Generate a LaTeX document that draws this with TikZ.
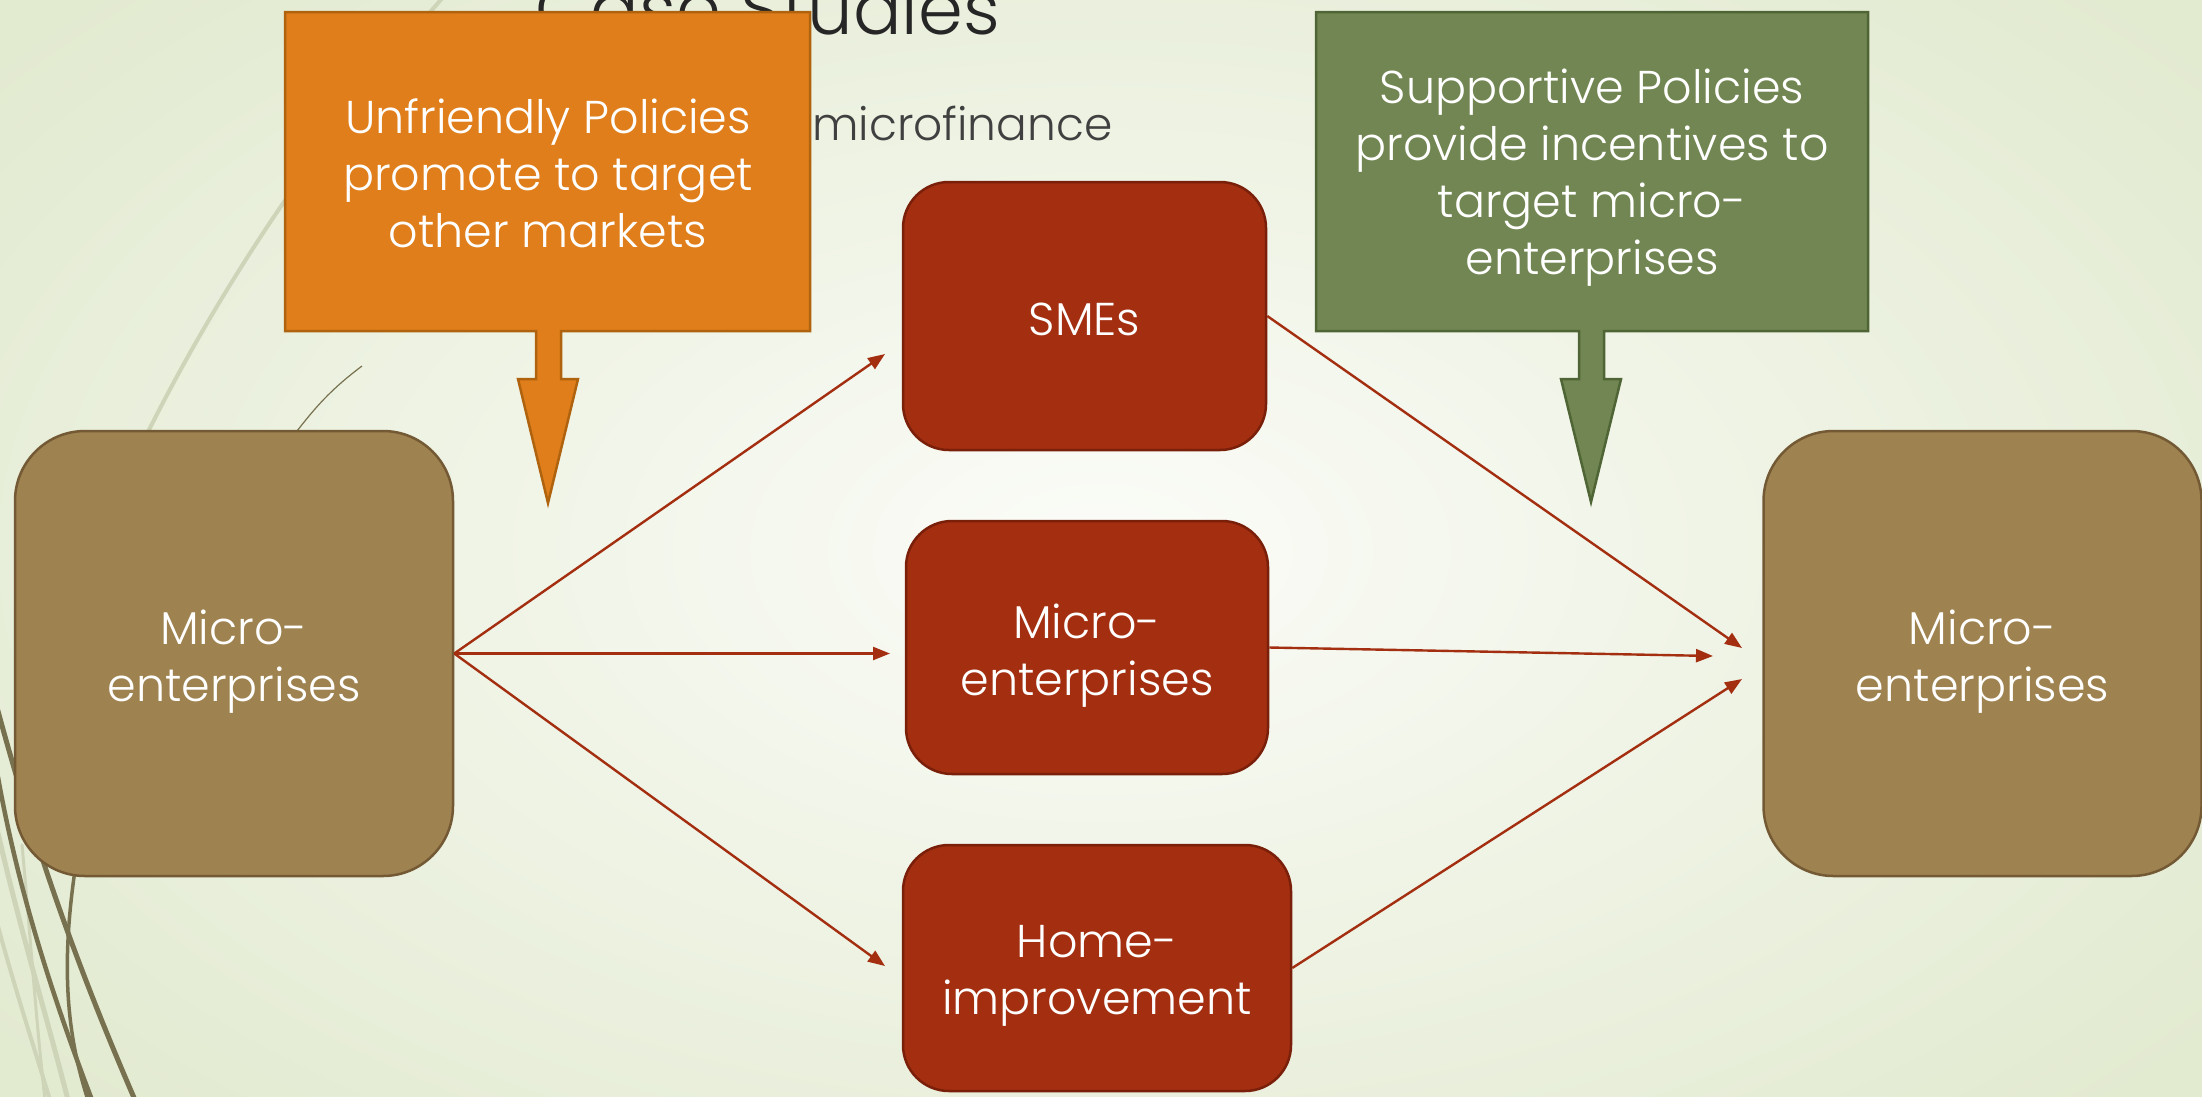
\documentclass[tikz,border=0pt]{standalone}
\usepackage{fontspec}
\usetikzlibrary{arrows.meta,calc}
\IfFontExistsTF{Poppins Light}{\setmainfont{Poppins Light}}{\setmainfont{Poppins}}

\definecolor{bgin}{HTML}{FBFCF8}
\definecolor{bgout}{HTML}{E2EAD0}
\definecolor{callorange}{HTML}{DF7E1A}
\definecolor{callorangeline}{HTML}{B0630F}
\definecolor{callgreen}{HTML}{718652}
\definecolor{callgreenline}{HTML}{4F6535}
\definecolor{mud}{HTML}{9E8250}
\definecolor{mudline}{HTML}{735A35}
\definecolor{rust}{HTML}{A32E10}
\definecolor{rustline}{HTML}{7A1F0A}
\definecolor{flowline}{HTML}{A32E10}
\definecolor{titlegray}{HTML}{262626}
\definecolor{subgray}{HTML}{404040}
\definecolor{swirldark}{HTML}{78714F}
\definecolor{swirlpale}{HTML}{CDD4B8}

\tikzset{
  boxfont/.style={font=\fontsize{46}{57}\selectfont, text=white, align=center, inner sep=0pt},
  mudbox/.style={draw=mudline, fill=mud, line width=2.5pt,
    rounded corners=70pt, minimum width=438pt, minimum height=445pt, inner sep=0pt},
  rustbox/.style={draw=rustline, fill=rust, line width=2.5pt,
    rounded corners=46pt, inner sep=0pt},
  callshape/.style={line width=2.5pt, line join=miter},
  flow/.style={draw=flowline, line width=2.4pt, -{Triangle[length=17pt,width=13pt]}},
  swirl/.style={line cap=round},
}

\begin{document}
\begin{tikzpicture}[x=1pt, y=-1pt]
  \useasboundingbox (0,0) rectangle (2202,1096);
  % background
  \shade[inner color=bgin, outer color=bgout] (-300,-250) rectangle (2500,1350);

  % decorative swirls on the left
  \draw[swirl, swirlpale, line width=4pt] (445,-5) .. controls (300,160) and (150,380) .. (60,640);
  \draw[swirl, swirlpale, line width=5pt] (-5,820) .. controls (20,930) and (45,1010) .. (68,1100);
  \draw[swirl, swirlpale, line width=3pt] (22,845) .. controls (30,930) and (35,1010) .. (45,1100);
  \draw[swirl, swirlpale, line width=4pt] (-5,915) .. controls (15,990) and (35,1050) .. (50,1100);
  \draw[swirl, swirldark, line width=5pt] (-5,700) .. controls (30,830) and (70,950) .. (135,1100);
  \draw[swirl, swirldark, line width=4.5pt] (-5,760) .. controls (15,880) and (50,990) .. (92,1100);
  \draw[swirl, swirldark, line width=3.5pt] (75,870) .. controls (62,960) and (65,1030) .. (88,1100);
  \draw[swirldark, line width=1.2pt] (297,431) .. controls (315,408) and (330,390) .. (362,366);

  % slide title and subtitle
  \node[anchor=base east, inner sep=0pt, text=titlegray, font=\fontsize{72}{76}\selectfont]
    (title) at (1000,34) {Case Studies};
  \node[anchor=base west, inner sep=0pt, text=subgray, font=\fontsize{45.5}{50}\selectfont]
    (sub) at (812,140) {microfinance};

  % market boxes
  \node[mudbox] (src) at (234,653.5) {};
  \node[mudbox] (dst) at (1982.5,653.5) {};
  \node[rustbox, minimum width=363pt, minimum height=268pt] (sme) at (1084.5,316) {};
  \node[rustbox, minimum width=362pt, minimum height=253pt] (mic) at (1087,647.5) {};
  \node[rustbox, minimum width=388pt, minimum height=246pt] (home) at (1097,968) {};

  % box labels
  \node[boxfont, yshift=-8pt] (src-t) at (src) {Micro-\\enterprises};
  \node[boxfont, yshift=-8pt] (dst-t) at (dst) {Micro-\\enterprises};
  \node[boxfont, yshift=-3pt] (sme-t) at (sme) {SMEs};
  \node[boxfont, yshift=-8pt] (mic-t) at (mic) {Micro-\\enterprises};
  \node[boxfont, yshift=-8pt] (home-t) at (home) {Home-\\improvement};

  % arrow end points
  \coordinate (toSme) at (885,354);
  \coordinate (toMic) at (890,653.5);
  \coordinate (toHome) at (885,966);
  \coordinate (inA) at (1742,648);
  \coordinate (inB) at (1713,656);
  \coordinate (inC) at (1742,679);

  \draw[flow] (src.east) -- (toSme);
  \draw[flow] (src.east) -- (toMic);
  \draw[flow] (src.east) -- (toHome);
  \draw[flow] (sme.east) -- (inA);
  \draw[flow] (mic.east) -- (inB);
  \draw[flow] (home.east) -- (inC);

  % policy callouts
  \path[callshape, draw=callorangeline, fill=callorange]
    (285,12) -- (810,12) -- (810,331) -- (561,331) -- (561,379) -- (578,379)
    -- (548,503) -- (518,379) -- (536,379) -- (536,331) -- (285,331) -- cycle;
  \node[boxfont, yshift=-2pt] (unfriendly) at (548,171) {Unfriendly Policies\\promote to target\\other markets};

  \path[callshape, draw=callgreenline, fill=callgreen]
    (1316,12) -- (1868,12) -- (1868,331) -- (1604,331) -- (1604,379) -- (1621,379)
    -- (1591,502) -- (1561,379) -- (1579,379) -- (1579,331) -- (1316,331) -- cycle;
  \node[boxfont, yshift=-7pt] (supportive) at (1592,171) {Supportive Policies\\provide incentives to\\target micro-\\enterprises};
\end{tikzpicture}
\end{document}
